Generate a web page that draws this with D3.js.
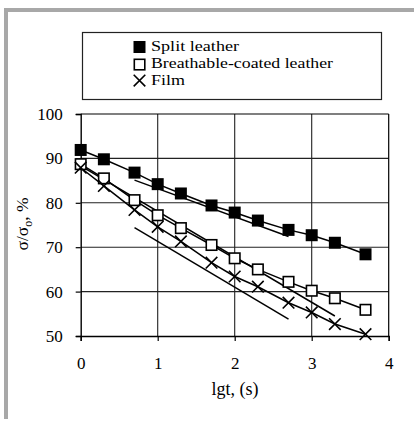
<!DOCTYPE html>
<html>
<head>
<meta charset="utf-8">
<script src="https://cdn.jsdelivr.net/npm/d3@7"></script>
<style>
  html, body { margin: 0; padding: 0; background: #fff; }
  svg { display: block; }
</style>
</head>
<body>
<svg id="chart" width="414" height="421" font-family="Liberation Serif"></svg>
<script>
// ---- data ----
const lgt = [0, 0.301, 0.699, 1, 1.301, 1.699, 2, 2.301, 2.699, 3, 3.301, 3.699];
const splitLeather = [91.9, 89.8, 86.8, 84.2, 82.1, 79.4, 77.8, 76.0, 73.9, 72.7, 71.0, 68.4];
const breathableLeather = [88.7, 85.5, 80.6, 77.2, 74.3, 70.5, 67.5, 65.0, 62.2, 60.2, 58.5, 55.9];
const film = [87.9, 83.8, 78.4, 74.6, 71.3, 66.5, 63.4, 61.1, 57.5, 55.3, 52.7, 50.4];
// straight fitted lines (x = lgt, y = %)
const splitTrendX = [0.699, 2.699];
const splitTrendY = [85.1, 72.4];
const filmTrendX = [0.699, 2.699];
const filmTrendY = [74.4, 53.8];
const breathTrendX = [0, 3.301];
const breathTrendY = [88.3, 54.5];
const xTicks = [0, 1, 2, 3, 4];
const yTicks = [50, 60, 70, 80, 90, 100];
const legendLabels = ["Split leather", "Breathable-coated leather", "Film"];

const FONT = "Liberation Serif";
const svg = d3.select("#chart");
const x = d3.scaleLinear().domain([0, 4]).range([80.7, 388.7]);
const y = d3.scaleLinear().domain([50, 100]).range([336, 114]);

// gray frame
svg.append("rect").attr("x", 4).attr("y", 8).attr("width", 410).attr("height", 4).attr("fill", "#a8a8a8");
svg.append("rect").attr("x", 4).attr("y", 8).attr("width", 4).attr("height", 411).attr("fill", "#a8a8a8");

// gridlines
const g = svg.append("g");
g.selectAll("line.hg").data(yTicks.filter(d => d > 50 && d < 100)).join("line")
  .attr("x1", x(0)).attr("x2", x(4)).attr("y1", d => y(d)).attr("y2", d => y(d))
  .attr("stroke", "#222").attr("stroke-width", 1.1);
g.selectAll("line.vg").data(xTicks.filter(d => d > 0 && d < 4)).join("line")
  .attr("y1", y(50)).attr("y2", y(100)).attr("x1", d => x(d)).attr("x2", d => x(d))
  .attr("stroke", "#222").attr("stroke-width", 1.1);
g.append("line").attr("x1", x(0)).attr("x2", x(4)).attr("y1", y(100)).attr("y2", y(100)).attr("stroke", "#000").attr("stroke-width", 1.2);
g.append("line").attr("x1", x(4)).attr("x2", x(4)).attr("y1", y(100)).attr("y2", y(50)).attr("stroke", "#000").attr("stroke-width", 1.2);

// axes
const xAxis = d3.axisBottom(x).tickValues(xTicks).tickSize(5).tickPadding(16).tickFormat(d3.format("d"));
const yAxis = d3.axisLeft(y).tickValues(yTicks).tickSize(5).tickPadding(13).tickFormat(d3.format("d"));
const gx = svg.append("g").attr("transform", `translate(0,${y(50)})`).call(xAxis);
const gy = svg.append("g").attr("transform", `translate(${x(0)},0)`).call(yAxis);
[gx, gy].forEach(a => {
  a.attr("font-family", FONT);
  a.select(".domain").attr("stroke", "#000").attr("stroke-width", 1.4);
  a.selectAll(".tick line").attr("stroke", "#000").attr("stroke-width", 1.2);
  a.selectAll(".tick text").attr("font-family", FONT).attr("font-size", 17).attr("fill", "#000");
});

// axis titles
svg.append("text").attr("x", 235).attr("y", 395).attr("text-anchor", "middle")
  .attr("font-family", FONT).attr("font-size", 18).text("lgt, (s)");
const yl = svg.append("text").attr("transform", "translate(28,224) rotate(-90)")
  .attr("text-anchor", "middle").attr("font-family", FONT).attr("font-size", 17.5);
yl.append("tspan").text("σ/σ");
yl.append("tspan").attr("font-size", 12).attr("dy", 4).text("o");
yl.append("tspan").attr("dy", -4).text(", %");

// lines
const line = d3.line().x(d => x(d[0])).y(d => y(d[1]));
const series = [splitLeather, breathableLeather, film];
const plot = svg.append("g");
series.forEach(s => {
  plot.append("path").attr("d", line(lgt.map((v, i) => [v, s[i]])))
    .attr("fill", "none").attr("stroke", "#000").attr("stroke-width", 1.5);
});
[[splitTrendX, splitTrendY], [filmTrendX, filmTrendY], [breathTrendX, breathTrendY]].forEach(([tx, ty]) => {
  plot.append("path").attr("d", line(tx.map((v, i) => [v, ty[i]])))
    .attr("fill", "none").attr("stroke", "#000").attr("stroke-width", 1.5);
});

// markers
const ms = 12;
plot.selectAll("rect.split").data(lgt).join("rect")
  .attr("x", d => x(d) - ms / 2).attr("y", (d, i) => y(splitLeather[i]) - ms / 2)
  .attr("width", ms).attr("height", ms).attr("fill", "#000");
const os = 10.5;
plot.selectAll("rect.breath").data(lgt).join("rect")
  .attr("x", d => x(d) - os / 2).attr("y", (d, i) => y(breathableLeather[i]) - os / 2)
  .attr("width", os).attr("height", os).attr("fill", "#fff").attr("stroke", "#000").attr("stroke-width", 1.6);
const xs = 5.8;
const cross = (cx, cy) => `M${cx - xs},${cy - xs}L${cx + xs},${cy + xs}M${cx - xs},${cy + xs}L${cx + xs},${cy - xs}`;
plot.selectAll("path.film").data(lgt).join("path")
  .attr("d", (d, i) => cross(x(d), y(film[i])))
  .attr("stroke", "#000").attr("stroke-width", 1.6).attr("fill", "none");

// legend
const lg = svg.append("g");
lg.append("rect").attr("x", 82.5).attr("y", 32.5).attr("width", 299).attr("height", 67)
  .attr("fill", "#fff").attr("stroke", "#222").attr("stroke-width", 1.2);
const baseY = [51, 68, 85];
const legendWidths = [88, 182, 34];
lg.append("rect").attr("x", 133.5).attr("y", 41).attr("width", 12).attr("height", 12).attr("fill", "#000");
lg.append("rect").attr("x", 134.3).attr("y", 59.3).attr("width", 10.5).attr("height", 10.5)
  .attr("fill", "#fff").attr("stroke", "#000").attr("stroke-width", 1.6);
lg.append("path").attr("d", cross(139.5, 80.6)).attr("stroke", "#000").attr("stroke-width", 1.6);
lg.selectAll("text.leg").data(legendLabels).join("text")
  .attr("x", 151).attr("y", (d, i) => baseY[i]).attr("font-family", FONT).attr("font-size", 15.2)
  .attr("textLength", (d, i) => legendWidths[i]).attr("lengthAdjust", "spacingAndGlyphs")
  .text(d => d);
</script>
</body>
</html>
